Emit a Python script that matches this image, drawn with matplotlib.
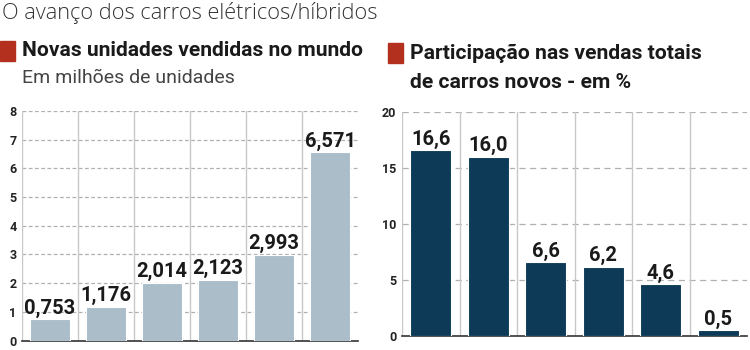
import matplotlib
matplotlib.use("Agg")
import matplotlib.pyplot as plt
from matplotlib import font_manager as fm
from matplotlib.patches import Rectangle

units = [0.753, 1.176, 2.014, 2.123, 2.993, 6.571]
units_labels = ["0,753", "1,176", "2,014", "2,123", "2,993", "6,571"]
share = [16.6, 16.0, 6.6, 6.2, 4.6, 0.5]
share_labels = ["16,6", "16,0", "6,6", "6,2", "4,6", "0,5"]
left_ticks = [0, 1, 2, 3, 4, 5, 6, 7, 8]
right_ticks = [0, 5, 10, 15, 20]

names = {f.name for f in fm.fontManager.ttflist}
cond = "Liberation Sans Narrow" if "Liberation Sans Narrow" in names else "Roboto"
plt.rcParams['font.family'] = ['Roboto', 'DejaVu Sans']

fig = plt.figure(figsize=(7.5, 3.5), dpi=100)
fig.patch.set_facecolor("white")

fig.text(0.002, 0.995, "O avanço dos carros elétricos/híbridos", fontsize=15.7,
         family=['Open Sans', 'DejaVu Sans'], fontweight='light', color='#333333', va='top', ha='left')

red = '#b3301e'
fig.patches.append(Rectangle((0 / 750, 1 - 61 / 350), 15 / 750, 20 / 350, transform=fig.transFigure,
                             color=red, zorder=5))
fig.text(22 / 750, 1 - 51 / 350, "Novas unidades vendidas no mundo", fontsize=15.1, fontweight='bold',
         family=[cond, 'DejaVu Sans'], color='#1a1a1a', va='center', ha='left')
fig.text(22 / 750, 1 - 78 / 350, "Em milhões de unidades", fontsize=14,
         family=['Roboto', 'DejaVu Sans'], fontweight='normal', color='#444444', va='center', ha='left')

fig.patches.append(Rectangle((388 / 750, 1 - 63 / 350), 15 / 750, 20 / 350, transform=fig.transFigure,
                             color=red, zorder=5))
fig.text(410 / 750, 1 - 53 / 350, "Participação nas vendas totais", fontsize=15.2, fontweight='bold',
         family=[cond, 'DejaVu Sans'], color='#1a1a1a', va='center', ha='left')
fig.text(410 / 750, 1 - 82 / 350, "de carros novos - em %", fontsize=15.2, fontweight='bold',
         family=[cond, 'DejaVu Sans'], color='#1a1a1a', va='center', ha='left')


def panel(rect, vals, labels, ticks, color, ymax, dash):
    ax = fig.add_axes(rect)
    x = list(range(len(vals)))
    ax.bar(x, vals, width=0.72, color=color, edgecolor='white', linewidth=0.8, zorder=3)
    ax.set_xlim(-0.5, len(vals) - 0.5)
    ax.set_ylim(0, ymax)
    ax.set_yticks(ticks)
    ax.set_yticklabels([str(t) for t in ticks])
    ax.set_xticks([])
    for t in ticks[1:]:
        ax.axhline(t, color='#b0b0b0', linestyle=dash, linewidth=0.9, zorder=1)
    for i in x:
        ax.axvline(i - 0.5, color='#c8c8c8', linewidth=1.0, zorder=1)
    for s in ['top', 'right', 'left']:
        ax.spines[s].set_visible(False)
    ax.spines['bottom'].set_color('#333333')
    ax.spines['bottom'].set_linewidth(1.2)
    ax.tick_params(axis='y', length=0, pad=4, labelsize=9)
    for lab in ax.get_yticklabels():
        lab.set_fontweight('bold')
        lab.set_color('#222222')
    for i, (v, l) in enumerate(zip(vals, labels)):
        ax.annotate(l, (i, v), xytext=(0, 1), textcoords='offset points', ha='center', va='bottom',
                    fontsize=14.5, fontweight='bold', color='#1a1a1a', zorder=4,
                    family=[cond, 'DejaVu Sans'])
    return ax


panel([22 / 750, 9.5 / 350, 336 / 750, 229.5 / 350], units, units_labels, left_ticks, '#aabdc8', 8,
      (0, (3, 2)))
panel([402 / 750, 14 / 350, 345 / 750, 224 / 350], share, share_labels, right_ticks, '#0c3a57', 20,
      (0, (5, 3.5)))

fig.savefig("out.png", dpi=100, facecolor='white')
